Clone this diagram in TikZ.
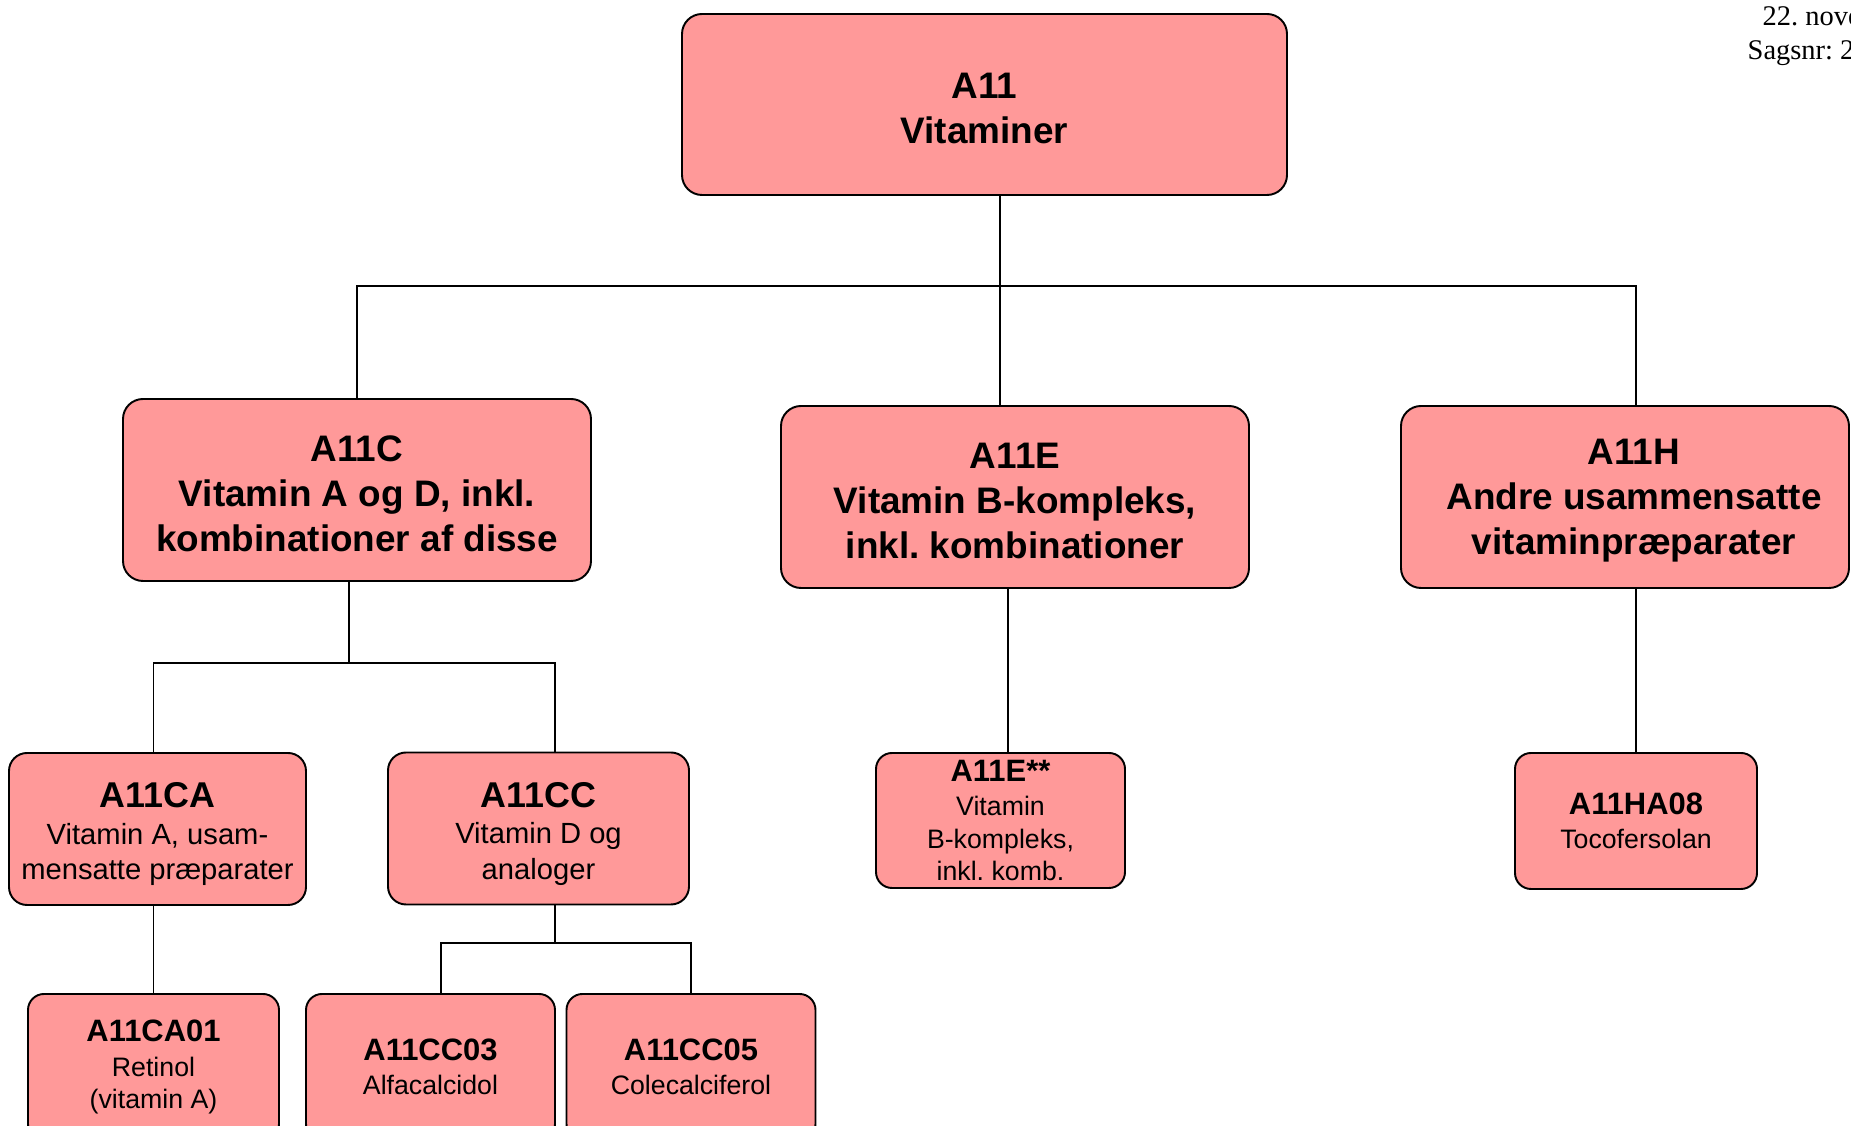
\documentclass[tikz,border=0pt]{standalone}
\usepackage{fontspec}
\setmainfont{Liberation Sans}
\newfontfamily\datefont{Liberation Serif}
\usetikzlibrary{positioning}
\frenchspacing
\definecolor{boxfill}{HTML}{FF9999}
\tikzset{
  atcbox/.style={draw=black, fill=boxfill, line width=0.55pt, rounded corners=2mm,
    align=center, inner sep=0pt},
  grpbox/.style={atcbox, minimum width=46.8mm, minimum height=18.2mm,
    font=\fontsize{10.5}{12.8}\selectfont\bfseries},
  topbox/.style={grpbox, minimum width=60.5mm, minimum height=18.1mm},
  subbox/.style={atcbox, minimum height=15.2mm, rounded corners=1.8mm,
    font=\fontsize{8.3}{10}\selectfont},
  leafbox/.style={atcbox, minimum width=24.9mm, minimum height=14.6mm,
    rounded corners=1.6mm, font=\fontsize{7.6}{9.2}\selectfont},
  datetext/.style={anchor=base west, inner sep=0pt,
    font=\datefont\fontsize{8.1}{9.7}\selectfont},
  link/.style={draw=black, line width=0.55pt}
}
\newcommand{\grphd}[1]{\rule{0pt}{9.3pt}#1}
\newcommand{\subhd}[1]{{\fontsize{10.2}{12}\selectfont\bfseries\rule{0pt}{10.1pt}#1}}
\newcommand{\leafhd}[1]{{\fontsize{8.8}{10}\selectfont\bfseries #1}}

\begin{document}
\begin{tikzpicture}[x=0.1mm,y=-0.1mm]
        \useasboundingbox (0,0) rectangle (1851,1126);
        \clip (0,0) rectangle (1851,1126);
        \node[datetext] (date) at (1762,26) {22. nove};
        \node[datetext] (sagsnr) at (1747,60) {Sagsnr: 2};
        \node[topbox] (a11) at (984.5,104.5) {\grphd{A11}\\Vitaminer};
        \node[grpbox] (a11c) at (357,490) {\grphd{A11C}\\Vitamin A og D, inkl.\\kombinationer af disse};
        \node[grpbox] (a11e) at (1015,497) {\grphd{A11E}\\Vitamin B-kompleks,\\inkl. kombinationer};
        \node[grpbox, minimum width=44.8mm] (a11h) at (1625,497) {\hspace*{1.8mm}\grphd{A11H}\\\hspace*{1.8mm}Andre usammensatte\\\hspace*{1.8mm}vitaminpræparater};
        \node[subbox, minimum width=29.7mm] (a11ca) at (157.5,829) {\subhd{A11CA}\\[0.4pt]Vitamin A, usam-\\mensatte præparater};
        \node[subbox, minimum width=30.1mm] (a11cc) at (538.5,828.5) {\subhd{A11CC}\\[0.4pt]Vitamin D og\\analoger};
        \node[leafbox, minimum height=13.5mm] (a11ex) at (1000.5,820.5) {\leafhd{A11E**}\\[0.6pt]Vitamin\\B-kompleks,\\inkl. komb.};
        \node[leafbox, minimum width=24.2mm, minimum height=13.6mm] (a11ha08) at (1636,821) {\leafhd{A11HA08}\\[0.6pt]Tocofersolan};
        \node[leafbox, minimum width=25.1mm] (a11ca01) at (153.5,1067) {\leafhd{A11CA01}\\[0.6pt]Retinol\\(vitamin A)};
        \node[leafbox] (a11cc03) at (430.5,1067) {\leafhd{A11CC03}\\[0.6pt]Alfacalcidol};
        \node[leafbox] (a11cc05) at (691,1067) {\leafhd{A11CC05}\\[0.6pt]Colecalciferol};
        % junctions of the tree
        \coordinate (j1) at (1000,286);
        \coordinate (j2) at (349,663);
        \coordinate (j3) at (555,943);
        \draw[link] (a11.south -| j1) -- (j1);
        \draw[link] (a11c.north) |- (j1) -| (a11h.north -| a11ha08);
        \draw[link] (j1) -- (a11e.north -| j1);
        \draw[link] (a11c.south -| j2) -- (j2);
        \draw[link] (a11ca.north -| a11ca01) |- (j2) -| (a11cc.north -| j3);
        \draw[link] (a11ca.south -| a11ca01) -- (a11ca01.north);
        \draw[link] (a11cc.south -| j3) -- (j3);
        \draw[link] ([xshift=1.05mm]a11cc03.north) |- (j3) -| (a11cc05.north);
        \draw[link] ([xshift=0.75mm]a11ex.north) -- ([xshift=0.75mm]a11ex.north |- a11e.south);
        \draw[link] (a11h.south -| a11ha08) -- (a11ha08.north);
      \end{tikzpicture}
\end{document}
